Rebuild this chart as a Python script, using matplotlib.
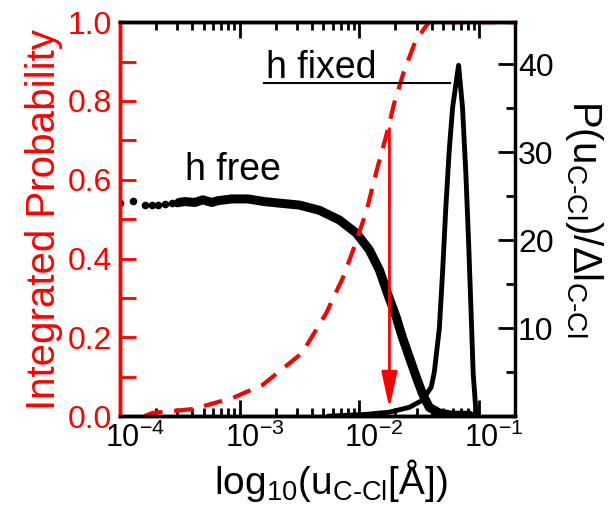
import numpy as np
import matplotlib
matplotlib.use("Agg")
import matplotlib.pyplot as plt
from matplotlib.transforms import ScaledTranslation
from matplotlib.ticker import FixedLocator, MultipleLocator, FormatStrFormatter, LogLocator, NullFormatter

plt.rcParams['font.family'] = ['Liberation Sans', 'DejaVu Sans']
plt.rcParams['mathtext.fontset'] = 'custom'
plt.rcParams['mathtext.rm'] = 'Liberation Sans'
plt.rcParams['mathtext.it'] = 'Liberation Sans:italic'

# integrated probability (left axis, red dashed), u in Angstrom
cdf_u = [1.6e-4, 1.86e-4, 4.06e-4, 8.7e-4, 1.55e-3, 3.31e-3, 5.25e-3, 7.24e-3,
         9.33e-3, 1.15e-2, 1.38e-2, 1.66e-2, 1.95e-2, 2.34e-2, 2.95e-2, 3.8e-2, 0.2]
cdf_p = [0.0, 0.008, 0.018, 0.046, 0.079, 0.16, 0.26, 0.35,
         0.44, 0.523, 0.619, 0.708, 0.794, 0.873, 0.954, 1.0, 1.0]

# h free distribution (right axis): sparse points at small u, then dense band
free_dots_u = [1.0e-4, 1.28e-4, 1.61e-4, 1.85e-4, 2.07e-4, 2.37e-4, 2.71e-4, 2.98e-4]
free_dots_p = [24.2, 24.5, 24.0, 24.0, 24.0, 24.1, 24.2, 24.2]
free_u = [3.1e-4, 3.48e-4, 4.22e-4, 4.92e-4, 5.85e-4, 6.56e-4, 8.57e-4, 1.17e-3, 1.61e-3,
          2.24e-3, 3.16e-3, 4.65e-3, 6.81e-3, 9.44e-3, 1.21e-2, 1.47e-2, 1.71e-2,
          2.03e-2, 2.28e-2, 2.61e-2, 2.99e-2, 3.35e-2, 3.83e-2, 4.65e-2, 5.96e-2, 8.3e-2]
free_p = [24.3, 24.4, 24.3, 24.6, 24.3, 24.5, 24.7, 24.7, 24.4,
          24.2, 24.0, 23.4, 22.3, 20.8, 18.9, 16.6, 14.0,
          11.25, 9.0, 6.7, 4.4, 2.6, 1.0, 0.35, 0.1, 0.1]

# h fixed distribution (right axis)
fixed_u = [5.62e-3, 1.14e-2, 1.78e-2, 2.61e-2, 3.35e-2, 3.98e-2, 4.22e-2, 4.65e-2,
           4.94e-2, 5.27e-2, 5.62e-2, 6.0e-2, 6.73e-2, 7.26e-2, 7.74e-2, 8.15e-2,
           8.53e-2, 8.91e-2, 9.38e-2, 9.62e-2]
fixed_p = [0.0, 0.2, 0.45, 1.0, 1.8, 3.3, 5.0, 10.0,
           16.2, 23.8, 30.2, 35.1, 39.9, 35.1, 27.6, 20.0,
           12.4, 4.9, 0.7, 0.0]

# annotation positions
ARROW_U, ARROW_TOP, ARROW_BOT = 0.0178, 0.73, 0.02
LINE_U = (1.61e-3, 0.0573)
LINE_Y = 0.845

fig = plt.figure(figsize=(6.09, 5.05), dpi=100)
ax = fig.add_axes([0.197, 0.176, 0.649, 0.780])
ax2 = ax.twinx()

ax2.plot(free_dots_u, free_dots_p, 'o', color='black', ms=5.5, mec='none')
ax2.plot(free_u, free_p, '-', color='black', lw=6.5, solid_capstyle='round')
ax2.plot(fixed_u, fixed_p, '-', color='black', lw=3.5)

ax.plot(cdf_u, cdf_p, color='red', lw=3.0, ls=(0, (4.5, 2.8)))
ax.annotate('', xy=(ARROW_U, ARROW_BOT), xytext=(ARROW_U, ARROW_TOP),
            arrowprops=dict(arrowstyle='-|>,head_width=0.24,head_length=1.1',
                            color='red', lw=2.0, mutation_scale=20,
                            shrinkA=0, shrinkB=0))
ax.plot(LINE_U, [LINE_Y, LINE_Y], color='black', lw=1.5)

ax.text(3.48e-4, 0.599, 'h free', fontsize=27, ha='left', va='baseline')
ax.text(1.67e-3, 0.858, 'h fixed', fontsize=27, ha='left', va='baseline')

# red curves on top of the black ones
ax.set_zorder(ax2.get_zorder() + 1)
ax.patch.set_visible(False)

ax.set_xscale('log')
ax.set_xlim(1e-4, 0.2)
ax.set_ylim(0, 1)
ax2.set_ylim(0, 44.8)

ax.xaxis.set_major_locator(LogLocator(base=10, numticks=10))
ax.xaxis.set_minor_locator(LogLocator(base=10, subs=np.arange(2, 10), numticks=20))
ax.xaxis.set_minor_formatter(NullFormatter())
ax.yaxis.set_major_locator(MultipleLocator(0.2))
ax.yaxis.set_minor_locator(MultipleLocator(0.1))
ax.yaxis.set_major_formatter(FormatStrFormatter('%.1f'))
ax2.yaxis.set_major_locator(FixedLocator([10, 20, 30, 40]))
ax2.yaxis.set_minor_locator(FixedLocator([5, 15, 25, 35]))

for s in ax.spines.values():
    s.set_linewidth(2.5)
for s in ax2.spines.values():
    s.set_linewidth(2.5)
ax.spines['left'].set_color('red')
ax2.spines['left'].set_color('red')
ax.spines['right'].set_visible(False)

ax.tick_params(axis='x', which='both', direction='in', top=True, width=2, labelsize=22, pad=5)
ax.tick_params(axis='x', which='major', length=11.5)
ax.tick_params(axis='x', which='minor', length=6)
ax.tick_params(axis='y', which='both', direction='in', colors='red', width=2,
               length=11.5, labelsize=23, pad=6)
ax2.tick_params(axis='y', which='both', direction='in', width=2, labelsize=23, pad=2)
ax2.tick_params(axis='y', which='major', length=12)
ax2.tick_params(axis='y', which='minor', length=6.5)

# decade labels start at their ticks in the original
fig.canvas.draw()
shift = ScaledTranslation(-15 / 100, 0, fig.dpi_scale_trans)
for t in ax.xaxis.get_major_ticks():
    t.label1.set_horizontalalignment('left')
    t.label1.set_transform(t.label1.get_transform() + shift)

ax.set_xlabel(r'log$_{10}$(u$_{\text{C-Cl}}$[Å])', fontsize=28, labelpad=2)
ax.xaxis.label.set_x(0.533)
ax.set_ylabel('Integrated Probability', fontsize=29, color='red', labelpad=3)
ax2.set_ylabel(r'P(u$_{\text{C-Cl}}$)/$\Delta$l$_{\text{C-Cl}}$', fontsize=29,
               rotation=-90, va='bottom', labelpad=7)

fig.savefig('out.png', dpi=100)
